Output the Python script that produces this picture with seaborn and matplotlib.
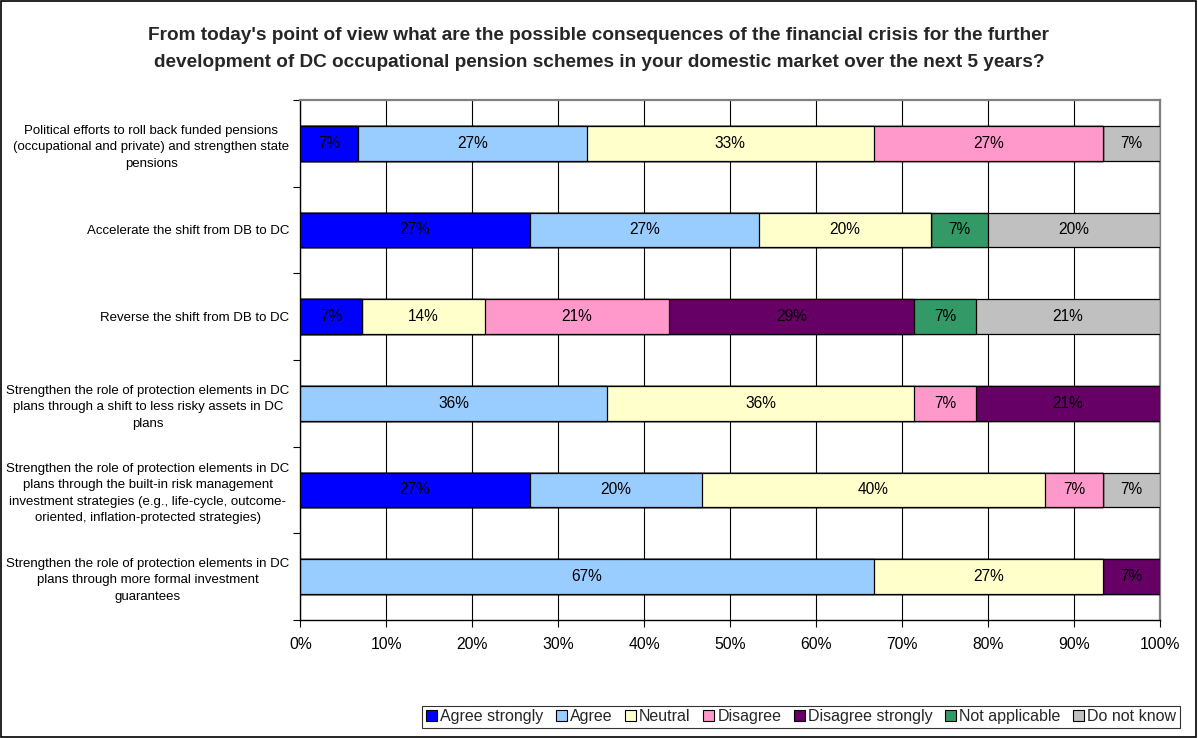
import matplotlib
matplotlib.use("Agg")
import matplotlib.pyplot as plt
from matplotlib.patches import Patch, Rectangle
from matplotlib.ticker import FixedLocator, PercentFormatter
import numpy as np
import pandas as pd
import seaborn as sns

# Survey statements (one bar each)
statements = [
    "Political efforts to roll back funded pensions\n(occupational and private) and strengthen state\npensions",
    "Accelerate the shift from DB to DC",
    "Reverse the shift from DB to DC",
    "Strengthen the role of protection elements in DC\nplans through a shift to less risky assets in DC\nplans",
    "Strengthen the role of protection elements in DC\nplans through the built-in risk management\ninvestment strategies (e.g., life-cycle, outcome-\noriented, inflation-protected strategies)",
    "Strengthen the role of protection elements in DC\nplans through more formal investment\nguarantees",
]

# Response shares in percent, per answer option
agree_strongly = [6.67, 26.67, 7.14, 0.0, 26.67, 0.0]
agree = [26.67, 26.67, 0.0, 35.71, 20.00, 66.67]
neutral = [33.33, 20.00, 14.29, 35.71, 40.00, 26.67]
disagree = [26.67, 0.0, 21.43, 7.14, 6.67, 0.0]
disagree_strongly = [0.0, 0.0, 28.57, 21.43, 0.0, 6.67]
not_applicable = [0.0, 6.67, 7.14, 0.0, 0.0, 0.0]
do_not_know = [6.67, 20.00, 21.43, 0.0, 6.67, 0.0]

answers = ["Agree strongly", "Agree", "Neutral", "Disagree",
           "Disagree strongly", "Not applicable", "Do not know"]
colors = ["#0000FF", "#99CCFF", "#FFFFCC", "#FF99CC",
          "#660066", "#339966", "#C0C0C0"]

x_ticks = [0, 10, 20, 30, 40, 50, 60, 70, 80, 90, 100]

title = ("From today's point of view what are the possible consequences of the financial crisis for the further\n"
         "development of DC occupational pension schemes in your domestic market over the next 5 years?")

df = pd.DataFrame(
    [agree_strongly, agree, neutral, disagree, disagree_strongly, not_applicable, do_not_know],
    index=answers, columns=statements,
).T
cum = df.cumsum(axis=1)

sns.set_theme(style="white")
plt.rcParams["font.family"] = ["Liberation Sans", "DejaVu Sans"]

fig = plt.figure(figsize=(11.98, 7.38), dpi=100)
ax = fig.add_axes([0.2508, 0.1599, 0.7175, 0.7046])

# Stacked bars: draw cumulative totals from the last answer backwards
for ans, col in reversed(list(zip(answers, colors))):
    sns.barplot(
        x=cum[ans].values, y=statements, orient="h", color=col,
        edgecolor="black", linewidth=0.9, width=0.4, ax=ax,
        saturation=1, zorder=3,
    )

# Segment labels
for i, st in enumerate(statements):
    for ans in answers:
        v = df.loc[st, ans]
        if v > 0:
            mid = cum.loc[st, ans] - v / 2
            ax.text(mid, i, f"{v:.0f}%", ha="center", va="center",
                    fontsize=11.2, color="black", zorder=5)

ax.set_xlim(0, 100)
ax.set_ylim(5.5, -0.5)
ax.xaxis.set_major_locator(FixedLocator(x_ticks))
ax.xaxis.set_major_formatter(PercentFormatter(decimals=0))
ax.set_xlabel("")
ax.set_ylabel("")

# Vertical grid lines
ax.grid(axis="x", color="black", linewidth=0.8, zorder=0)
ax.grid(axis="y", visible=False)
ax.set_axisbelow(True)

# Category ticks sit between bars
ax.set_yticks(range(len(statements)))
ax.set_yticklabels(statements)
ax.yaxis.set_minor_locator(FixedLocator(np.arange(-0.5, 6.0, 1.0)))
ax.tick_params(axis="y", which="major", length=0, pad=8, labelsize=9.5, colors="black")
ax.tick_params(axis="y", which="minor", length=5, width=0.8, color="black", direction="out", left=True)
ax.tick_params(axis="x", which="major", length=5, width=0.8, color="black", direction="out",
               bottom=True, pad=7, labelsize=11.3, labelcolor="black")
for lab in ax.get_yticklabels():
    lab.set_multialignment("center")
    lab.set_linespacing(1.5)

for side in ["left", "bottom"]:
    ax.spines[side].set_color("black")
    ax.spines[side].set_linewidth(1.0)
for side in ["top", "right"]:
    ax.spines[side].set_visible(True)
    ax.spines[side].set_color("#808080")
    ax.spines[side].set_linewidth(1.6)

fig.text(0.5, 0.9336, title, ha="center", va="center", fontsize=13.7,
         fontweight="bold", linespacing=1.7)

handles = [Patch(facecolor=c, edgecolor="black", linewidth=0.8) for c in colors]
leg = fig.legend(handles, answers, loc="center", bbox_to_anchor=(0.6686, 0.0285),
                 ncol=7, frameon=True, fontsize=11.5, handlelength=0.7,
                 handleheight=0.7, handletextpad=0.2, columnspacing=0.77,
                 borderpad=0.2, fancybox=False, borderaxespad=0)
leg.get_frame().set_edgecolor("black")
leg.get_frame().set_linewidth(0.8)

# Outer chart border
fig.patches.append(Rectangle((0.0005, 0.001), 0.998, 0.998, transform=fig.transFigure,
                             fill=False, edgecolor="black", linewidth=1.2))

fig.savefig("out.png", dpi=100)
